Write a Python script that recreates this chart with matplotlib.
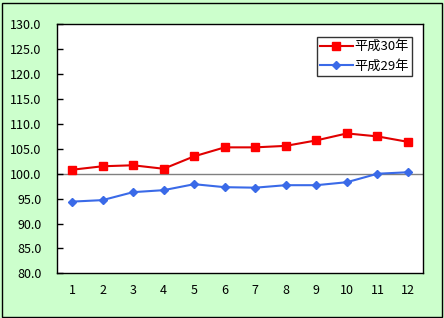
import matplotlib
matplotlib.use("Agg")
import matplotlib.pyplot as plt
from matplotlib.patches import Rectangle

plt.rcParams['font.family'] = ['Noto Sans CJK JP', 'DejaVu Sans']

months = list(range(1, 13))
month_labels = [str(m) for m in months]
h30 = [100.8, 101.5, 101.7, 101.0, 103.5, 105.3, 105.3, 105.6, 106.7, 108.1, 107.5, 106.4]
h29 = [94.4, 94.7, 96.3, 96.7, 97.9, 97.3, 97.2, 97.7, 97.7, 98.3, 100.0, 100.3]
series_names = ['平成30年', '平成29年']
yticks = [80, 85, 90, 95, 100, 105, 110, 115, 120, 125, 130]

W, H = 444, 318
fig = plt.figure(figsize=(W / 100, H / 100), dpi=100)
fig.patch.set_facecolor('#CCFFCC')
fig.patches.append(Rectangle((1.5 / W, 1.5 / H), (W - 4) / W, (H - 4) / H,
                             transform=fig.transFigure, fill=False,
                             edgecolor='black', linewidth=1.0))

left, right, top, bottom = 56.7, 423.3, 24.4, 273.3
ax = fig.add_axes([left / W, 1 - bottom / H, (right - left) / W, (bottom - top) / H])
ax.set_facecolor('white')

ax.axhline(100, color='#808080', linewidth=1.0, zorder=1)
ax.plot(months, h30, color='#E00000', linewidth=1.5, marker='s', markersize=5.8,
        markerfacecolor='#FF0000', markeredgecolor='#FF0000', label=series_names[0], zorder=3)
ax.plot(months, h29, color='#3A6AE8', linewidth=1.5, marker='D', markersize=4.3,
        markerfacecolor='#3A6AE8', markeredgecolor='#3A6AE8', label=series_names[1], zorder=3)

ax.set_xlim(0.5, 12.5)
ax.set_ylim(80, 130)
ax.set_yticks(yticks)
ax.set_yticklabels([f'{v:.1f}' for v in yticks])
ax.set_xticks(months)
ax.set_xticklabels(month_labels)
ax.tick_params(axis='y', direction='in', length=4, width=1, labelsize=9, pad=11)
ax.tick_params(axis='x', length=0, labelsize=9, pad=8)
for s in ax.spines.values():
    s.set_linewidth(1.0)
    s.set_color('black')

leg = ax.legend(loc='upper right', bbox_to_anchor=((412 - left) / (right - left), (bottom - 37) / (bottom - top)),
                frameon=True, fancybox=False, fontsize=9.5, handlelength=2.5,
                borderpad=0.25, labelspacing=0.5, handletextpad=0.1, borderaxespad=0)
leg.get_frame().set_edgecolor('black')
leg.get_frame().set_linewidth(1.0)

fig.savefig('out.png', dpi=100, facecolor=fig.get_facecolor())
